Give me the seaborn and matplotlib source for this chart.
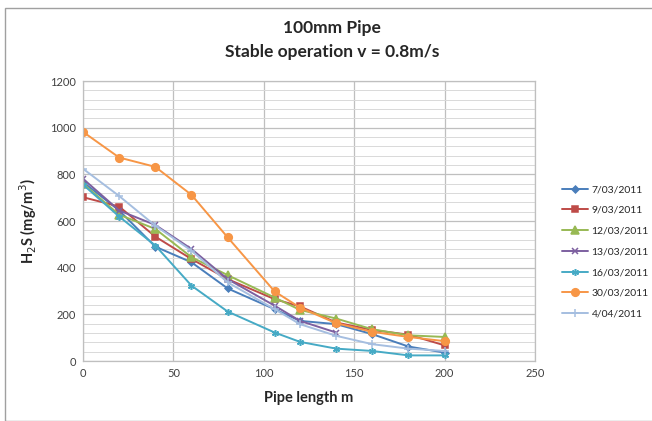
import numpy as np
import pandas as pd
import matplotlib.pyplot as plt
import matplotlib.ticker as plticker
import seaborn as sns

dates = ['7/03/2011', '9/03/2011', '12/03/2011', '13/03/2011', '16/03/2011', '30/03/2011', '4/04/2011']
length = [0, 20, 40, 60, 80, 106, 120, 140, 160, 180, 200]

h2s_0703 = [767, 645, 490, 423, 311, 222, 172, 158, 115, 62, 36]
h2s_0903 = [702, 662, 533, 437, 351, 265, 234, 165, 133, 113, 67]
h2s_1203 = [760, 627, 566, 445, 368, 272, 219, 182, 136, 110, 103]
h2s_1303 = [781, 645, 583, 480, 351, 237, 172, 122]
h2s_1603 = [756, 619, 495, 323, 212, 122, 82, 53, 43, 24, 24]
h2s_3003 = [982, 872, 832, 712, 530, 298, 229, 162, 125, 103, 85]
h2s_0404 = [824, 707, 580, 473, 337, 222, 158, 108, 72, 53, 43]

series = [h2s_0703, h2s_0903, h2s_1203, h2s_1303, h2s_1603, h2s_3003, h2s_0404]

rows = []
for d, vals in zip(dates, series):
    for x, v in zip(length, vals):
        rows.append({'date': d, 'length': x, 'h2s': v})
df = pd.DataFrame(rows)

colors = ['#4A7EBB', '#BE4B48', '#98B954', '#7D60A0', '#46AAC5', '#F79646', '#A5BEE0']
markers = ['D', 's', '^', 'x', (6, 2, 0), 'o', '+']
msizes = [3.5, 5, 5.5, 5, 5, 5.5, 6]

sns.set_style("white")
plt.rcParams['font.family'] = ['Lato', 'DejaVu Sans']

fig = plt.figure(figsize=(6.52, 4.21), dpi=100)
ax = fig.add_axes([83 / 652, 1 - 361 / 421, (535 - 83) / 652, (361 - 81) / 421])

for d, c, m, ms in zip(dates, colors, markers, msizes):
    sub = df[df['date'] == d]
    sns.lineplot(data=sub, x='length', y='h2s', color=c, marker=m, markersize=ms,
                 markeredgewidth=1.1, markeredgecolor=c, linewidth=1.4, label=d, ax=ax)

ax.set_xlim(0, 250)
ax.set_ylim(0, 1200)
ax.xaxis.set_major_locator(plticker.MultipleLocator(50))
ax.yaxis.set_major_locator(plticker.MultipleLocator(200))
ax.yaxis.set_minor_locator(plticker.MultipleLocator(40))
ax.grid(which='major', axis='both', color='#BFBFBF', linewidth=0.9)
ax.grid(which='minor', axis='y', color='#D9D9D9', linewidth=0.7)
ax.set_axisbelow(True)
for s in ax.spines.values():
    s.set_color('#BFBFBF')
    s.set_linewidth(0.9)
ax.tick_params(axis='both', which='both', labelsize=8, colors='#404040', length=0, pad=5)

ax.set_xlabel('Pipe length m', fontsize=10.5, fontweight='bold', labelpad=9)
ax.set_ylabel('H$_2$S (mg/m$^3$)', fontsize=10.5, fontweight='bold', labelpad=8)

fig.text(332 / 652, 1 - 28 / 421, '100mm Pipe', ha='center', va='center',
         fontsize=12.5, fontweight='bold')
fig.text(332 / 652, 1 - 52 / 421, 'Stable operation v = 0.8m/s', ha='center', va='center',
         fontsize=12.5, fontweight='bold')

handles, labels = ax.get_legend_handles_labels()
ax.legend(handles, labels, loc='center left', bbox_to_anchor=(1.04, 0.39), frameon=False,
          fontsize=7.5, handlelength=2.5, labelspacing=1.1, handletextpad=0.3)

fig.patches.append(plt.Rectangle((5 / 652, 0.0), 1.2, 1 - 8 / 421, transform=fig.transFigure,
                                 fill=False, edgecolor='#A0A0A0', linewidth=1.0))

fig.savefig('out.png', dpi=100)
